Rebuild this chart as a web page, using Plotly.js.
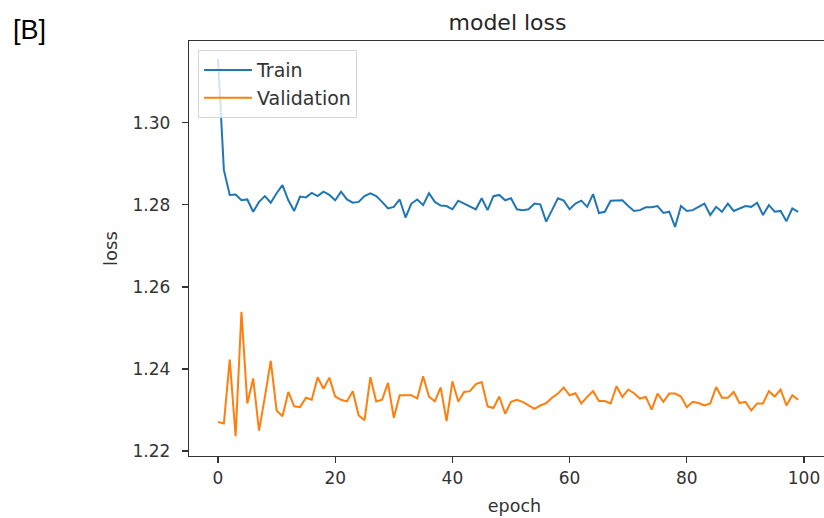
<!DOCTYPE html>
<html>
<head>
<meta charset="utf-8">
<script src="https://cdn.plot.ly/plotly-3.0.1.min.js"></script>
<style>
html, body { margin: 0; padding: 0; overflow: hidden; background: #fff; width: 824px; }
#chart { width: 840px; height: 518px; }
</style>
</head>
<body>
<div id="chart"></div>
<script>
const epochs = Array.from({length: 100}, (_, i) => i);

const trainLoss = [
  1.3155, 1.2885, 1.2824, 1.2825, 1.2811, 1.2813, 1.2783, 1.2807, 1.2821, 1.2805,
  1.2828, 1.2848, 1.2811, 1.2785, 1.2820, 1.2818, 1.2829, 1.2821, 1.2832, 1.2824,
  1.2811, 1.2832, 1.2813, 1.2805, 1.2807, 1.2821, 1.2828, 1.2821, 1.2807, 1.2791,
  1.2795, 1.2813, 1.2769, 1.2803, 1.2813, 1.2799, 1.2828, 1.2807, 1.2798, 1.2797,
  1.2789, 1.2810, 1.2803, 1.2795, 1.2789, 1.2816, 1.2787, 1.2821, 1.2824, 1.2811,
  1.2816, 1.2789, 1.2787, 1.2789, 1.2803, 1.2801, 1.2759, 1.2787, 1.2816, 1.2810,
  1.2789, 1.2803, 1.2810, 1.2795, 1.2826, 1.2780, 1.2783, 1.2810, 1.2811, 1.2811,
  1.2797, 1.2785, 1.2787, 1.2794, 1.2794, 1.2797, 1.2780, 1.2783, 1.2746, 1.2797,
  1.2785, 1.2787, 1.2795, 1.2803, 1.2775, 1.2795, 1.2783, 1.2803, 1.2785, 1.2791,
  1.2797, 1.2795, 1.2805, 1.2775, 1.2799, 1.2783, 1.2785, 1.2760, 1.2791, 1.2783
];

const valLoss = [
  1.2271, 1.2267, 1.2423, 1.2236, 1.2539, 1.2316, 1.2377, 1.2250, 1.2332, 1.2420,
  1.2299, 1.2285, 1.2344, 1.2309, 1.2307, 1.2330, 1.2325, 1.2380, 1.2352, 1.2379,
  1.2333, 1.2325, 1.2321, 1.2346, 1.2287, 1.2275, 1.2380, 1.2321, 1.2325, 1.2366,
  1.2281, 1.2336, 1.2336, 1.2336, 1.2328, 1.2382, 1.2333, 1.2321, 1.2355, 1.2273,
  1.2370, 1.2321, 1.2344, 1.2346, 1.2363, 1.2368, 1.2309, 1.2305, 1.2333, 1.2291,
  1.2320, 1.2325, 1.2320, 1.2311, 1.2303, 1.2311, 1.2317, 1.2330, 1.2340, 1.2355,
  1.2336, 1.2341, 1.2316, 1.2332, 1.2346, 1.2322, 1.2322, 1.2316, 1.2358, 1.2332,
  1.2350, 1.2341, 1.2328, 1.2332, 1.2301, 1.2340, 1.2320, 1.2340, 1.2340, 1.2333,
  1.2307, 1.2320, 1.2317, 1.2311, 1.2316, 1.2356, 1.2330, 1.2330, 1.2344, 1.2317,
  1.2320, 1.2299, 1.2316, 1.2316, 1.2346, 1.2333, 1.2350, 1.2311, 1.2336, 1.2325
];

const seriesNames = ['Train', 'Validation'];
const yTickVals = [1.22, 1.24, 1.26, 1.28, 1.30];
const xTickVals = [0, 20, 40, 60, 80, 100];

const font = 'DejaVu Sans, sans-serif';
const axisColor = '#333333';

const traces = [
  {x: epochs, y: trainLoss, name: seriesNames[0], type: 'scatter', mode: 'lines',
   line: {color: '#1f77b4', width: 2}, legendgroup: 'a'},
  {x: epochs, y: valLoss, name: seriesNames[1], type: 'scatter', mode: 'lines',
   line: {color: '#ff7f0e', width: 2}, legendgroup: 'b'}
];

// plot area spans 189..840 px; the visible window ends at 824 (right spine cropped, as in the reference)
const layout = {
  width: 840, height: 518,
  margin: {l: 189, r: 0, t: 41, b: 62},
  paper_bgcolor: '#ffffff', plot_bgcolor: '#ffffff',
  font: {family: font, color: '#262626'},
  title: {text: 'model loss', font: {family: font, size: 22, color: '#262626'},
          x: (507.5 - 189) / 651, xref: 'paper', xanchor: 'center', y: 1 - 22/518, yanchor: 'middle'},
  xaxis: {
    range: [-4.95, 106.14], tickvals: xTickVals, ticktext: xTickVals.map(String),
    showgrid: false, zeroline: false, showline: true, mirror: true,
    linecolor: axisColor, linewidth: 1.3,
    ticks: 'outside', ticklen: 6, tickwidth: 1.3, tickcolor: axisColor,
    tickfont: {family: font, size: 17, color: '#333'},
    title: {text: 'epoch', font: {family: font, size: 17.5, color: '#333'}, standoff: 13}
  },
  yaxis: {
    range: [1.2188, 1.3199], tickvals: yTickVals, ticktext: yTickVals.map(v => v.toFixed(2)),
    showgrid: false, zeroline: false, showline: true, mirror: false,
    linecolor: axisColor, linewidth: 1.3,
    ticks: 'outside', ticklen: 6, tickwidth: 1.3, tickcolor: axisColor,
    ticklabelstandoff: 8,
    tickfont: {family: font, size: 17, color: '#333'},
    title: {text: 'loss', font: {family: font, size: 18, color: '#333'}, standoff: 10}
  },
  showlegend: true,
  legend: {
    x: 9 / 651, y: 0.978, xanchor: 'left', yanchor: 'top',
    bgcolor: 'rgba(255,255,255,0.8)', bordercolor: '#d6d6d6', borderwidth: 1,
    font: {family: font, size: 19, color: '#333'},
    itemwidth: 48,
    traceorder: 'grouped', tracegroupgap: 0
  },
  annotations: [{
    text: '[B]', xref: 'paper', yref: 'paper',
    x: -178/651, y: 1 + 11/415, xanchor: 'left', yanchor: 'middle',
    showarrow: false, font: {family: 'Liberation Sans, Arial, sans-serif', size: 27, color: '#000'}
  }]
};

Plotly.newPlot('chart', traces, layout, {displayModeBar: false, staticPlot: true});
</script>
</body>
</html>
